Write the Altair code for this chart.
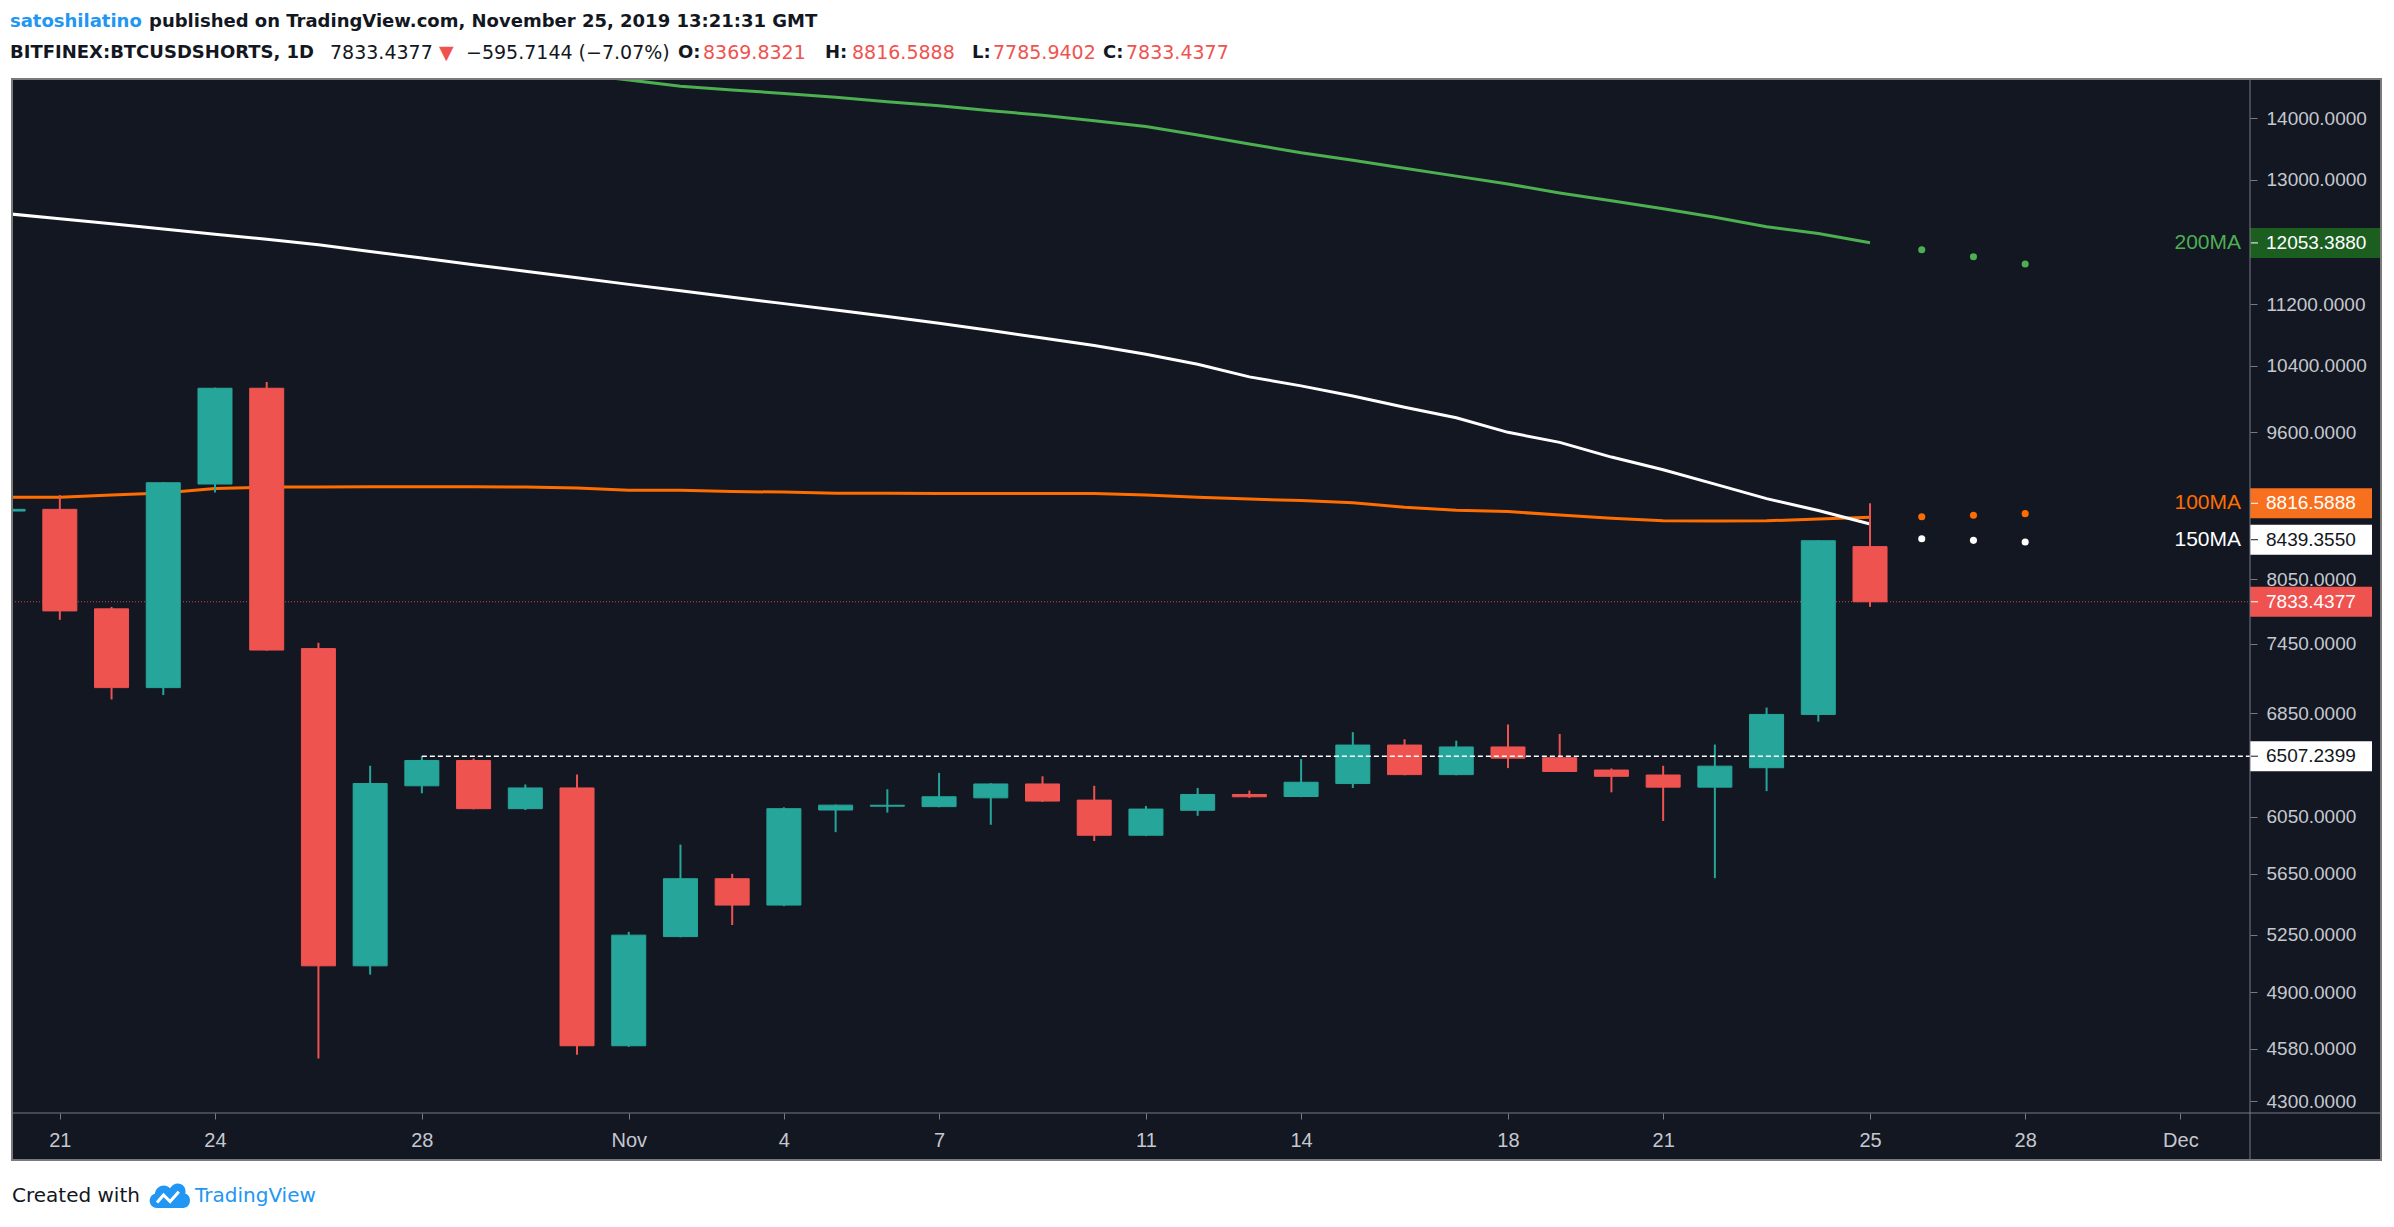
import altair as alt
import pandas as pd

# ------------------------------------------------------------------ data
dates = pd.date_range("2019-10-20", "2019-11-25", freq="D").strftime("%Y-%m-%d").tolist()

opens = [8735, 8753, 7767, 7066, 9023, 10123, 7405, 5059, 6280, 6474, 6110, 6264, 4596,
         5240, 5617, 5442, 6100, 6128, 6125, 6190, 6294, 6173, 5918, 6098, 6215, 6200,
         6297, 6595, 6365, 6580, 6495, 6400, 6362, 6270, 6418, 6842, 8369.8321]
highs = [8800, 8904, 7785, 9045, 10130, 10200, 7457, 6433, 6507.2399, 6490, 6290, 6365, 5270,
         5852, 5650, 6120, 6140, 6254, 6378, 6300, 6352, 6280, 6130, 6264, 6244, 6485,
         6698, 6641, 6630, 6760, 6683, 6412, 6433, 6599, 6899, 8435, 8816.5888]
lows = [8700, 7665, 6966, 7003, 8932, 7385, 4526, 5006, 6224, 6105, 6100, 4547, 4590,
        5235, 5313, 5435, 5940, 6081, 6120, 5993, 6160, 5877, 5912, 6058, 6190, 6195,
        6264, 6360, 6360, 6415, 6385, 6231, 6020, 5621, 6240, 6783, 7785.9402]
closes = [8753, 7748, 7066, 9037, 10123, 7392, 5059, 6297, 6474, 6110, 6264, 4596, 5249,
          5617, 5442, 6110, 6136, 6135, 6198, 6294, 6166, 5918, 6107, 6215, 6198, 6307,
          6595, 6365, 6580, 6492, 6389, 6352, 6270, 6430, 6842, 8429.1521, 7833.4377]

ma100 = [8880, 8880, 8905, 8927, 8975, 8990, 8992, 8995, 8994, 8993, 8990, 8979, 8956,
         8956, 8942, 8936, 8923, 8923, 8922, 8922, 8921, 8920, 8905, 8880, 8862, 8846,
         8823, 8776, 8744, 8730, 8693, 8661, 8633, 8632, 8633, 8652, 8670]
ma150 = [12483, 12410, 12335, 12256, 12180, 12106, 12028, 11931, 11836, 11743, 11649,
         11559, 11468, 11380, 11292, 11206, 11119, 11033, 10946, 10850, 10752, 10655,
         10545, 10419, 10262, 10152, 10029, 9895, 9771, 9601, 9486, 9320, 9179, 9022,
         8866, 8740, 8600]
ma200_dates = dates[11:]
ma200 = [14760, 14660, 14550, 14485, 14424, 14356, 14279, 14211, 14127, 14052, 13960,
         13861, 13721, 13575, 13431, 13311, 13185, 13060, 12937, 12799, 12678, 12558,
         12431, 12291, 12190, 12055]

proj_dates = ["2019-11-26", "2019-11-27", "2019-11-28"]
proj100 = [8675, 8691, 8708]
proj150 = [8450, 8433, 8417]
proj200 = [11956, 11856, 11752]

level_date = "2019-10-28"
level_value = 6507.2399
last_close = 7833.4377

tag_names = ["200MA", "100MA", "150MA", "close", "level"]
tag_values = [12053.3880, 8816.5888, 8439.3550, 7833.4377, 6507.2399]

ma_label_names = ["200MA", "100MA", "150MA"]
ma_label_values = [12053.3880, 8816.5888, 8439.3550]

tick_dates = ["2019-10-21", "2019-10-24", "2019-10-28", "2019-11-01", "2019-11-04",
              "2019-11-07", "2019-11-11", "2019-11-14", "2019-11-18", "2019-11-21",
              "2019-11-25", "2019-11-28", "2019-12-01"]
tick_labels = ["21", "24", "28", "Nov", "4", "7", "11", "14", "18", "21", "25", "28", "Dec"]
y_ticks = [4300, 4580, 4900, 5250, 5650, 6050, 6850, 7450, 8050, 9600, 10400, 11200,
           13000, 14000]

# ------------------------------------------------------------------ style
BG = "#131722"
GRID = "#787b86"
LBL = "#c5c8cf"
TEAL = "#26a69a"
RED = "#ef5350"
GREEN = "#4caf50"
ORANGE = "#ff6d00"
WHITE = "#ffffff"
BLACK = "#131722"
BLUE = "#2196f3"
HFONT = "DejaVu Sans"
AFONT = "Liberation Sans"

W, H = 2238, 1034
PL, PT = 12, 79

BASE = pd.Timestamp("2019-10-21")


def day_of(s):
    return (pd.Timestamp(s) - BASE).days


tick_days = [day_of(d) for d in tick_dates]
label_expr = ("[" + ",".join(f"'{t}'" for t in tick_labels) + "][indexof(["
              + ",".join(str(d) for d in tick_days) + "], datum.value)]")

XS = alt.Scale(domain=[-0.828, 42.25], nice=False, zero=False)
YS = alt.Scale(type="log", domain=[4265, 14588], nice=False)
XA = alt.Axis(values=tick_days, labelExpr=label_expr, title=None, domain=False, grid=False,
              orient="bottom", tickSize=6, tickColor=GRID, labelColor=LBL, labelFont=AFONT,
              labelFontSize=20, labelPadding=21, labelBaseline="middle", labelAlign="center",
              labelOverlap=False, labelFlush=False)
YA = alt.Axis(values=y_ticks, format=".4f", title=None, domain=False, grid=False,
              orient="right", tickSize=7, tickColor=GRID, labelColor=LBL, labelFont=AFONT,
              labelFontSize=19, labelPadding=9, labelAlign="left", labelBaseline="middle",
              labelOverlap=False, labelFlush=False)


def X(field="day"):
    return alt.X(f"{field}:Q", scale=XS, axis=XA)


def Y(field="v"):
    return alt.Y(f"{field}:Q", scale=YS, axis=YA)


def series_df(ds, vs):
    return pd.DataFrame({"day": [day_of(d) for d in ds], "v": vs})


ONE = pd.DataFrame({"k": [0]})

layers = []

# last price dotted line
layers.append(alt.Chart(pd.DataFrame({"v": [last_close]})).mark_rule(
    color=RED, strokeDash=[1, 2], strokeWidth=1, opacity=0.85
).encode(y=Y(), x=alt.value(0), x2=alt.value(W)))

# moving averages
for ds, vs, col in [(dates, ma100, ORANGE), (dates, ma150, WHITE), (ma200_dates, ma200, GREEN)]:
    layers.append(alt.Chart(series_df(ds, vs)).mark_line(
        color=col, strokeWidth=3, clip=True).encode(x=X(), y=Y()))

# candles
candles = pd.DataFrame({"day": [day_of(d) for d in dates], "open": opens, "high": highs,
                        "low": lows, "close": closes})
candles["dir"] = ["up" if c >= o else "down" for o, c in zip(opens, closes)]
CS = alt.Scale(domain=["up", "down"], range=[TEAL, RED])
layers.append(alt.Chart(candles).mark_rule(strokeWidth=2, clip=True).encode(
    x=X(), y=Y("low"), y2="high:Q", color=alt.Color("dir:N", scale=CS, legend=None)))
layers.append(alt.Chart(candles).mark_bar(size=34, clip=True, strokeWidth=1).encode(
    x=X(), y=Y("open"), y2="close:Q",
    color=alt.Color("dir:N", scale=CS, legend=None),
    stroke=alt.Stroke("dir:N", scale=CS, legend=None)))

# horizontal level
layers.append(alt.Chart(pd.DataFrame({"day": [day_of(level_date)], "v": [level_value]})).mark_rule(
    color=WHITE, strokeDash=[5, 3], strokeWidth=1.5).encode(x=X(), x2=alt.value(W), y=Y()))

# projected dots
for vs, col in [(proj200, GREEN), (proj100, ORANGE), (proj150, WHITE)]:
    layers.append(alt.Chart(series_df(proj_dates, vs)).mark_circle(
        size=50, opacity=1, color=col).encode(x=X(), y=Y()))

# MA labels
label_colors = {"200MA": GREEN, "100MA": ORANGE, "150MA": WHITE}
for name, val in zip(ma_label_names, ma_label_values):
    layers.append(alt.Chart(pd.DataFrame({"v": [val]})).mark_text(
        align="right", baseline="middle", font=AFONT, fontSize=21, color=label_colors[name]
    ).encode(x=alt.value(2241 - PL), y=Y(), text=alt.value(name)))

# price tags on the axis
tag_style = {"200MA": ("#1b5e20", WHITE, 2381), "100MA": ("#f7701d", WHITE, 2372),
             "150MA": (WHITE, BLACK, 2372), "close": (RED, WHITE, 2372),
             "level": (WHITE, BLACK, 2372)}
for name, val in zip(tag_names, tag_values):
    fill, tc, right = tag_style[name]
    df = pd.DataFrame({"v": [val], "txt": [f"{val:.4f}"]})
    layers.append(alt.Chart(df).mark_bar(orient="horizontal", size=30, color=fill).encode(
        y=Y(), x=alt.value(W), x2=alt.value(right - PL)))
    layers.append(alt.Chart(df).mark_rule(color=tc, strokeWidth=1).encode(
        y=Y(), x=alt.value(W + 1), x2=alt.value(W + 8)))
    layers.append(alt.Chart(df).mark_text(
        align="left", baseline="middle", font=AFONT, fontSize=19, color=tc
    ).encode(y=Y(), x=alt.value(2266 - PL), text="txt:N"))


# white page outside the chart frame
def band(x1, x2, y1, y2):
    return alt.Chart(ONE).mark_rect(color="white").encode(
        x=alt.value(x1 - PL), x2=alt.value(x2 - PL), y=alt.value(y1 - PT), y2=alt.value(y2 - PT))


layers += [band(0, 2394, 0, 78), band(0, 2394, 1161, 1227), band(0, 11, 0, 1227),
           band(2382, 2394, 0, 1227)]

# frame and dividers
layers.append(alt.Chart(ONE).mark_rect(fillOpacity=0, stroke="#7a7a7a", strokeWidth=2).encode(
    x=alt.value(0), x2=alt.value(2381 - PL), y=alt.value(0), y2=alt.value(1160 - PT)))
layers.append(alt.Chart(ONE).mark_rule(color=GRID, strokeWidth=1).encode(
    x=alt.value(W), y=alt.value(0), y2=alt.value(1160 - PT)))
layers.append(alt.Chart(ONE).mark_rule(color=GRID, strokeWidth=1).encode(
    x=alt.value(0), x2=alt.value(2381 - PL), y=alt.value(H)))


def txt(x, y, s, color=BLACK, size=18, font=HFONT, weight="bold"):
    return alt.Chart(ONE).mark_text(align="left", baseline="middle", font=font, fontSize=size,
                                    fontWeight=weight, color=color).encode(
        x=alt.value(x - PL), y=alt.value(y - PT), text=alt.value(s))


change = closes[-1] - closes[-2]
pct = change / closes[-2] * 100
header = [
    txt(10, 22, "satoshilatino", BLUE),
    txt(149, 22, "published on TradingView.com, November 25, 2019 13:21:31 GMT"),
    txt(10, 53, "BITFINEX:BTCUSDSHORTS, 1D"),
    txt(330, 53, f"{closes[-1]:.4f}", size=19, weight="normal"),
    txt(439, 53, "\u25bc", RED, size=19, weight="normal"),
    txt(466, 53, f"\u2212{abs(change):.4f} (\u2212{abs(pct):.2f}%)", size=19, weight="normal"),
    txt(678, 53, "O:"), txt(703, 53, f"{opens[-1]:.4f}", RED, size=19, weight="normal"),
    txt(825, 53, "H:"), txt(852, 53, f"{highs[-1]:.4f}", RED, size=19, weight="normal"),
    txt(972, 53, "L:"), txt(993, 53, f"{lows[-1]:.4f}", RED, size=19, weight="normal"),
    txt(1103, 53, "C:"), txt(1126, 53, f"{closes[-1]:.4f}", RED, size=19, weight="normal"),
    txt(12, 1196, "Created with", size=20, weight="normal"),
    txt(195, 1196, "TradingView", BLUE, size=20, weight="normal"),
]
layers += header

cloud = ("M-0.55,0.55 C-0.95,0.55 -1,0 -0.65,-0.1 C-0.6,-0.5 -0.15,-0.6 0.05,-0.35 "
         "C0.25,-0.75 0.85,-0.6 0.75,-0.1 C1.05,-0.05 1.05,0.55 0.65,0.55 Z")
wave = "M-0.55,0.3 L-0.25,-0.05 L0.05,0.25 L0.45,-0.2"
layers.append(alt.Chart(ONE).mark_point(shape=cloud, filled=True, size=1900, color=BLUE,
                                        opacity=1).encode(
    x=alt.value(169 - PL), y=alt.value(1196 - PT)))
layers.append(alt.Chart(ONE).mark_point(shape=wave, filled=False, size=1900, color="white",
                                        strokeWidth=3, opacity=1).encode(
    x=alt.value(169 - PL), y=alt.value(1196 - PT)))

chart = alt.layer(*layers).properties(
    width=W, height=H,
    padding={"left": PL, "top": PT, "right": 2394 - PL - W, "bottom": 1227 - PT - H},
    autosize=alt.AutoSizeParams(type="none"),
    background=BG,
).configure_view(strokeWidth=0)

chart.save("out.html", embed_options={"renderer": "svg", "actions": False})
